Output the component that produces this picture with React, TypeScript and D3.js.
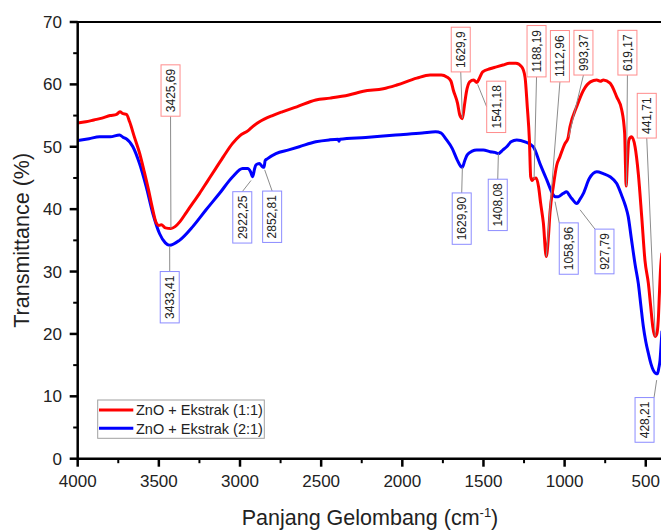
import React from 'react';
import * as d3 from 'd3';

const xTickValues = [4000, 3500, 3000, 2500, 2000, 1500, 1000, 500];
const xMinorValues = [3750, 3250, 2750, 2250, 1750, 1250, 750];
const yTickValues = [0, 10, 20, 30, 40, 50, 60, 70];
const yMinorValues = [5, 15, 25, 35, 45, 55, 65];

const seriesNames = ['ZnO + Ekstrak (1:1)', 'ZnO + Ekstrak (2:1)'];

const redWn = [4000, 3950, 3900, 3850, 3800, 3760, 3740, 3720, 3700, 3680, 3650, 3619, 3590, 3563, 3540, 3516, 3500, 3485, 3460, 3426, 3400, 3370, 3330, 3290, 3250, 3200, 3150, 3100, 3047, 3000, 2950, 2924, 2880, 2800, 2740, 2650, 2533, 2445, 2330, 2240, 2117, 2034, 1911, 1829, 1760, 1726, 1700, 1686, 1660, 1645, 1630, 1618, 1605, 1585, 1560, 1541, 1525, 1505, 1460, 1420, 1380, 1340, 1300, 1264, 1244, 1230, 1217, 1209, 1200, 1190, 1175, 1160, 1148, 1131, 1113, 1100, 1090, 1070, 1049, 1029, 998, 980, 967, 926, 883, 841, 802, 780, 761, 720, 679, 648, 630, 625, 621, 614, 605, 595, 587, 566, 546, 525, 505, 484, 470, 457, 443, 432, 423, 415, 408, 400];
const redT = [53.8, 54.0, 54.3, 54.6, 55.0, 55.2, 55.6, 55.3, 55.2, 54.0, 51.5, 49.0, 46.0, 43.0, 40.2, 37.8, 37.4, 37.5, 37.0, 36.9, 37.2, 38.0, 39.5, 41.0, 42.5, 44.5, 46.5, 48.5, 50.5, 51.8, 52.6, 53.2, 54.0, 55.0, 55.6, 56.4, 57.5, 57.8, 58.3, 58.9, 59.3, 59.9, 61.0, 61.5, 61.5, 61.2, 60.5, 59.1, 57.0, 55.0, 54.5, 56.5, 58.8, 60.4, 60.7, 60.3, 61.0, 62.0, 62.5, 62.8, 63.1, 63.4, 63.4, 62.8, 61.2, 56.4, 51.1, 45.2, 44.6, 44.9, 45.0, 43.5, 41.0, 37.8, 32.4, 35.5, 39.5, 43.6, 47.0, 48.4, 50.5, 51.3, 53.2, 56.4, 59.1, 60.4, 60.7, 60.5, 60.7, 60.2, 58.0, 55.9, 52.1, 47.0, 43.7, 47.0, 51.0, 51.5, 51.6, 50.0, 45.7, 38.8, 31.8, 28.1, 24.5, 21.2, 19.6, 20.0, 22.2, 27.0, 30.8, 33.0];

const blueWn = [4000, 3930, 3865, 3800, 3742, 3720, 3701, 3660, 3619, 3578, 3537, 3496, 3460, 3434, 3373, 3291, 3209, 3127, 3045, 2984, 2953, 2935, 2922, 2910, 2902, 2881, 2862, 2852, 2845, 2830, 2779, 2700, 2635, 2533, 2451, 2395, 2390, 2385, 2226, 2041, 1877, 1795, 1760, 1733, 1692, 1662, 1641, 1630, 1615, 1600, 1570, 1542, 1501, 1459, 1430, 1409, 1380, 1357, 1330, 1295, 1244, 1193, 1152, 1110, 1070, 1059, 1039, 1010, 987, 970, 956, 925, 905, 885, 848, 802, 762, 720, 679, 650, 625, 608, 590, 565, 546, 530, 515, 500, 484, 468, 454, 440, 428, 420, 412, 405, 400];
const blueT = [51.0, 51.3, 51.6, 51.6, 51.9, 51.5, 51.3, 50.0, 47.3, 43.6, 39.3, 36.1, 34.6, 34.2, 35.0, 37.2, 39.9, 42.5, 45.2, 46.5, 46.5, 46.0, 45.2, 46.5, 47.1, 47.3, 46.8, 46.7, 47.8, 48.1, 48.9, 49.5, 50.0, 50.8, 51.1, 51.2, 50.9, 51.2, 51.5, 51.9, 52.2, 52.4, 52.2, 51.3, 49.7, 47.9, 46.9, 46.7, 47.8, 48.7, 49.3, 49.5, 49.5, 49.2, 49.1, 48.9, 49.5, 50.0, 50.8, 51.1, 50.8, 50.0, 47.3, 44.7, 42.3, 42.0, 42.0, 42.5, 42.8, 42.2, 41.7, 40.9, 41.6, 42.5, 44.9, 46.0, 45.7, 45.2, 44.1, 42.3, 40.5, 38.8, 35.5, 31.0, 28.1, 24.5, 21.2, 18.8, 16.9, 15.2, 14.2, 13.7, 13.6, 14.5, 15.8, 18.5, 20.5];

// Peak labels: text, peak position (w, t), leader anchor on box (aw, at), box alignment to anchor (fx, fy)
const redLabels = [
  { text: '3425,69', w: 3425.69, t: 36.9, aw: 3428, at: 54.9, fx: 0.5, fy: 1 },
  { text: '1629,9', w: 1629.9, t: 54.6, aw: 1640, at: 62.0, fx: 0.5, fy: 1 },
  { text: '1541,18', w: 1536, t: 60.0, aw: 1480, at: 56.4, fx: 0, fy: 0.5 },
  { text: '1188,19', w: 1188.19, t: 44.8, aw: 1173, at: 61.2, fx: 0.5, fy: 1 },
  { text: '1112,96', w: 1112.96, t: 32.4, aw: 1029, at: 60.4, fx: 0.5, fy: 1 },
  { text: '993,37', w: 975, t: 51.6, aw: 884, at: 61.5, fx: 0.5, fy: 1 },
  { text: '619,17', w: 619.17, t: 43.7, aw: 613, at: 61.5, fx: 0.5, fy: 1 },
  { text: '441,71', w: 441.71, t: 19.6, aw: 494, at: 51.4, fx: 0.5, fy: 1 },
];
const blueLabels = [
  { text: '3433,41', w: 3433.41, t: 34.1, aw: 3433, at: 30.0, fx: 0.5, fy: 0 },
  { text: '2922,25', w: 2932, t: 44.6, aw: 2986, at: 42.8, fx: 0.5, fy: 0 },
  { text: '2852,81', w: 2848, t: 46.3, aw: 2802, at: 42.9, fx: 0.5, fy: 0 },
  { text: '1629,90', w: 1629.9, t: 46.7, aw: 1634, at: 42.6, fx: 0.5, fy: 0 },
  { text: '1408,08', w: 1408.08, t: 48.9, aw: 1412, at: 44.8, fx: 0.5, fy: 0 },
  { text: '1058,96', w: 1059, t: 41.2, aw: 1033, at: 37.8, fx: 0, fy: 0 },
  { text: '927,79', w: 905, t: 39.9, aw: 813, at: 36.8, fx: 0, fy: 0 },
  { text: '428,21', w: 433, t: 12.6, aw: 449, at: 9.8, fx: 1, fy: 0 },
];

const FONT = "'Liberation Sans', Arial, sans-serif";
const RED = '#ff0000';
const BLUE = '#0000ff';

const x = d3.scaleLinear().domain([4000, 400]).range([77.7, 662]);
const y = d3.scaleLinear().domain([0, 70]).range([458.7, 22]);

const line = d3
  .line<[number, number]>()
  .x((d) => x(d[0]))
  .y((d) => y(d[1]))
  .curve(d3.curveMonotoneX);

function textLen(s: string, size: number) {
  let w = 0;
  for (const c of s) w += c === ',' ? 0.278 : 0.556;
  return w * size;
}

function Labels({ items, border }: { items: typeof redLabels; border: string }) {
  return (
    <g>
      {items.map((a) => {
        const px = x(a.w);
        const py = y(a.t);
        const ax = x(a.aw);
        const ay = y(a.at);
        const bw = 19;
        const bh = textLen(a.text, 12) + 8;
        const bx = ax - a.fx * bw;
        const by = ay - a.fy * bh;
        const cx = bx + bw / 2;
        const cy = by + bh / 2;
        return (
          <g key={a.text + border}>
            <line x1={px} y1={py} x2={ax} y2={ay} stroke="#8c8c8c" strokeWidth={1} />
            <rect x={bx} y={by} width={bw} height={bh} fill="#fff" stroke={border} strokeWidth={1} />
            <text
              transform={`translate(${cx + 4.3},${cy}) rotate(-90)`}
              textAnchor="middle"
              fontSize={12}
              fill="#222"
              fontFamily={FONT}
            >
              {a.text}
            </text>
          </g>
        );
      })}
    </g>
  );
}

export default function App() {
  const red = redWn.map((w, i) => [w, redT[i]] as [number, number]);
  const blue = blueWn.map((w, i) => [w, blueT[i]] as [number, number]);
  const [x0, x1] = x.range();
  const [yb, yt] = y.range();
  return (
    <svg
      width={661}
      height={531}
      style={{ position: 'absolute', left: 0, top: 0, background: '#fff' }}
      fontFamily={FONT}
    >
      <rect x={0} y={0} width={661} height={531} fill="#fff" />
      <path d={line(blue) || ''} fill="none" stroke={BLUE} strokeWidth={3} strokeLinejoin="round" />
      <path d={line(red) || ''} fill="none" stroke={RED} strokeWidth={3} strokeLinejoin="round" />

      <Labels items={redLabels} border="#ff8c8c" />
      <Labels items={blueLabels} border="#8c8cff" />

      {/* axes frame */}
      <line x1={x0} y1={yt} x2={x1} y2={yt} stroke="#000" strokeWidth={2} />
      <line x1={x0} y1={yb} x2={x1} y2={yb} stroke="#000" strokeWidth={2.5} />
      <line x1={x0} y1={yt - 1} x2={x0} y2={yb + 1.2} stroke="#000" strokeWidth={2.5} />

      {xTickValues.map((v) => (
        <g key={'xt' + v}>
          <line x1={x(v)} x2={x(v)} y1={yb} y2={yb + 8} stroke="#000" strokeWidth={2.5} />
          <text x={x(v)} y={487} textAnchor="middle" fontSize={17} fill="#222">
            {v}
          </text>
        </g>
      ))}
      {xMinorValues.map((v) => (
        <line key={'xm' + v} x1={x(v)} x2={x(v)} y1={yb} y2={yb + 4.5} stroke="#000" strokeWidth={2} />
      ))}
      {yTickValues.map((v) => (
        <g key={'yt' + v}>
          <line x1={x0 - 8} x2={x0} y1={y(v)} y2={y(v)} stroke="#000" strokeWidth={2.5} />
          <text x={62} y={y(v) + 6} textAnchor="end" fontSize={17} fill="#222">
            {v}
          </text>
        </g>
      ))}
      {yMinorValues.map((v) => (
        <line key={'ym' + v} x1={x0 - 4.5} x2={x0} y1={y(v)} y2={y(v)} stroke="#000" strokeWidth={2} />
      ))}

      <text
        transform={`translate(28.5,${(yb + yt) / 2}) rotate(-90)`}
        textAnchor="middle"
        fontSize={21.5}
        fill="#222"
      >
        Transmittance (%)
      </text>
      <text x={370} y={525} textAnchor="middle" fontSize={21.5} fill="#222">
        Panjang Gelombang (cm
        <tspan dy={-8} fontSize={13}>
          -1
        </tspan>
        <tspan dy={8}>)</tspan>
      </text>

      {/* legend */}
      <rect x={97.7} y={400} width={166.6} height={38.3} fill="#fff" stroke="#a0a0a0" strokeWidth={1} />
      {seriesNames.map((n, i) => (
        <g key={n}>
          <line x1={99} x2={133.3} y1={410 + i * 18.3} y2={410 + i * 18.3} stroke={i === 0 ? RED : BLUE} strokeWidth={3} />
          <text x={136} y={415.2 + i * 18.3} fontSize={14.5} fill="#222">
            {n}
          </text>
        </g>
      ))}
    </svg>
  );
}
